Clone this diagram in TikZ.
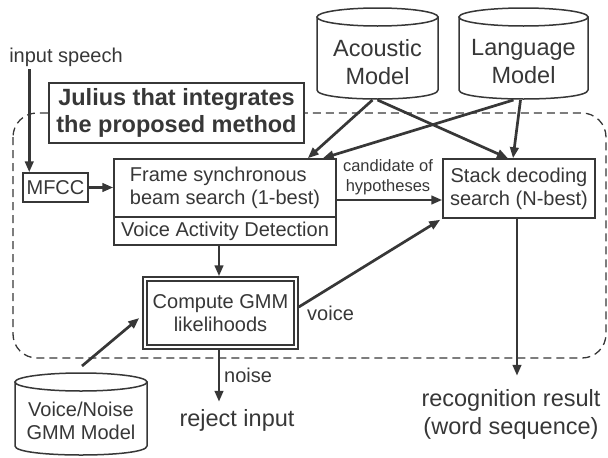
\documentclass[tikz,border=0pt]{standalone}
\usepackage{fontspec}
\setmainfont{Liberation Sans}
\usetikzlibrary{arrows.meta,calc}
\definecolor{ink}{RGB}{55,55,55}
\begin{document}
\begin{tikzpicture}[x=1pt,y=-1pt,
  every node/.style={text=ink},
  txt/.style={font=\fontsize{20}{23}\selectfont, align=center, inner sep=0pt},
  bigtxt/.style={font=\fontsize{23.5}{28}\selectfont, align=center, inner sep=0pt},
  smalltxt/.style={font=\fontsize{16.5}{20}\selectfont, align=center, inner sep=0pt},
  box/.style={draw=ink, line width=1.5pt, fill=white, inner sep=0pt},
  arr/.style={draw=ink, line width=2.7pt, -{Triangle[length=11pt,width=8.5pt]}},
  cyl/.style={draw=ink, line width=1.5pt, fill=white},
  dashbox/.style={draw=ink, line width=1.3pt, dash pattern=on 8pt off 5pt, rounded corners=24pt}
]
\useasboundingbox (0,0) rectangle (608,458);

% dashed container
\draw[dashbox] (13,113) rectangle (606,358);

% cylinders
\path[cyl] (317,17) -- (317,90) .. controls (317,102) and (438,102) .. (438,90) -- (438,17) -- cycle;
\draw[cyl] (377.5,17) ellipse [x radius=60.5, y radius=9];
\node[bigtxt] (acoustic) at (377.5,62) {Acoustic\\Model};

\path[cyl] (459,17) -- (459,90) .. controls (459,102) and (588,102) .. (588,90) -- (588,17) -- cycle;
\draw[cyl] (523.5,17) ellipse [x radius=64.5, y radius=9];
\node[bigtxt] (language) at (523.5,62) {Language\\Model};

\path[cyl] (15,382) -- (15,446) .. controls (15,458) and (147,458) .. (147,446) -- (147,382) -- cycle;
\draw[cyl] (81,382) ellipse [x radius=66, y radius=9];
\node[txt] (gmmmodel) at (81,421) {Voice/Noise\\GMM Model};

% text labels
\node[txt] (input) at (66,57) {input speech};
\node[box, line width=1.8pt, minimum width=255, minimum height=60, font=\bfseries\fontsize{23.5}{27}\selectfont, align=center] (julius) at (176.5,113) {Julius that integrates\\the proposed method};

% boxes
\node[box, minimum width=65, minimum height=29, txt] (mfcc) at (55.5,187.5) {MFCC};
\node[box, minimum width=222, minimum height=58, font=\fontsize{20}{23}\selectfont, align=left] (frame) at (225,188) {Frame synchronous\\beam search (1-best)};
\node[box, minimum width=222, minimum height=28, txt] (vad) at (225,231) {Voice Activity Detection};
\node[box, minimum width=152, minimum height=59, txt] (stack) at (519,188.5) {Stack decoding\\search (N-best)};
\node[box, minimum width=155, minimum height=72] (gmmouter) at (220.5,313) {};
\node[box, minimum width=147, minimum height=64, txt] (gmm) at (220.5,313) {Compute GMM\\likelihoods};

\node[smalltxt] (cand) at (388,177) {candidate of\\hypotheses};
\node[txt, anchor=west] (voice) at (307,313) {voice};
\node[txt, anchor=west] (noise) at (224,375) {noise};
\node[bigtxt] (reject) at (237,420) {reject input};
\node[bigtxt] (result) at (511,414) {recognition result\\(word sequence)};

% connectors
\coordinate (inTop) at ($(mfcc.north west)+(7,-103)$);
\draw[arr] (inTop) -- ($(mfcc.north west)+(7,0)$);
\draw[arr] (mfcc.east) -- (frame.west |- mfcc.east);
\draw[arr] ($(acoustic)+(-5,38)$) -- ($(frame.north east)+(-29,0)$);
\draw[arr] ($(acoustic)+(0,38)$) -- ($(stack.north)+(-11,0)$);
\draw[arr] ($(language)+(-10,38)$) -- ($(frame.north east)+(-14,0)$);
\draw[arr] ($(language)+(-3,38)$) -- ($(stack.north)+(-6,0)$);
\draw[arr] ($(frame.east)+(0,12)$) -- ($(stack.west)+(0,11.5)$);
\draw[arr] (vad.south -| gmmouter.north) ++(-1.5,0) -- ($(gmmouter.north)+(-1.5,0)$);
\draw[arr] ($(gmmouter.east)+(0,-6)$) -- ($(stack.south west)+(-2,1)$);
\draw[arr] ($(gmmmodel)+(1,-55)$) -- ($(gmmouter.west)+(-3,5)$);
\draw[arr] ($(gmmouter.south)+(-1.5,0)$) -- ($(gmmouter.south)+(-1.5,52)$);
\draw[arr] ($(stack.south)+(-2,0)$) -- ($(stack.south)+(-2,157)$);
\end{tikzpicture}
\end{document}
